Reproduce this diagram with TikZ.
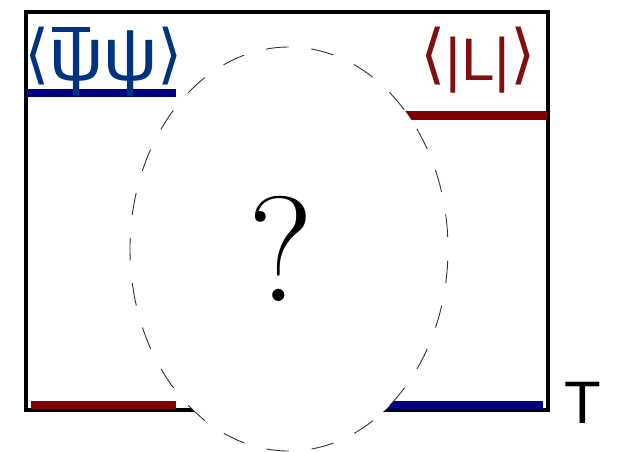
\documentclass[tikz,border=0pt]{standalone}
\usepackage{fontspec}
\usepackage{graphicx}
\setmainfont{Latin Modern Roman}
\newfontfamily\sansf{Liberation Sans}
\newfontfamily\dejaf{DejaVu Sans}
\definecolor{lineblue}{HTML}{000080}
\definecolor{textblue}{HTML}{003380}
\definecolor{linered}{HTML}{800000}
\definecolor{textred}{HTML}{801010}
% angle bracket scaled to 58pt, its foot 5pt below the baseline
\newcommand\brk[1]{\raisebox{-5pt}{\resizebox*{!}{58pt}{\raisebox{\depth}{\dejaf #1}}}}
\newcommand\psibar{\rlap{\kern2pt\rule[48pt]{38pt}{5pt}}ψ}
\tikzset{
  frame/.style={line width=4pt, line cap=rect},
  bar/.style={line width=8.5pt},
  bubble/.style={draw=black!80, fill=white, line width=0.9pt,
    dash pattern=on 22.75pt off 22.75pt, dash phase=33.9pt},
  lbl/.style={inner sep=0pt, font=\sansf\fontsize{60}{60}\selectfont}
}
\begin{document}
\begin{tikzpicture}[x=1pt,y=-1pt]
\useasboundingbox (0,0) rectangle (618,451);
\coordinate (tl) at (26,12);
\coordinate (tr) at (548,12);
\coordinate (br) at (548,410);
\coordinate (bl) at (26,410);
\draw[frame] (tr) -- (tl) -- (bl) -- (br) -- (tr);
\coordinate (b1s) at (26,93);  \coordinate (b1e) at (176,93);
\coordinate (r1s) at (380,115.5); \coordinate (r1e) at (547,115.5);
\coordinate (r2s) at (31,405); \coordinate (r2e) at (176,405);
\coordinate (b2s) at (370,405); \coordinate (b2e) at (543,405);
\draw[bar, lineblue] (b1s) -- (b1e);
\draw[linered, bar] (r1s) -- (r1e);
\draw[linered, bar] (r2s) -- (r2e);
\draw[lineblue, bar] (b2s) -- (b2e);
\draw[bubble] (289,249) ellipse [x radius=159, y radius=202];
\node[lbl, anchor=base west, text=textblue] (cond) at (24,80) {\brk{⟨}{\fontsize{76}{76}\selectfont\psibar ψ}\brk{⟩}};
\node[lbl, anchor=base east, text=textred] (poly) at (536,80) {\brk{⟨}|L|\brk{⟩}};
\node[inner sep=0pt, anchor=center, font=\fontsize{150}{150}\selectfont] (q) at (281,249) {?};
\node[lbl, anchor=base west] (T) at (564,423) {T};
\end{tikzpicture}
\end{document}
